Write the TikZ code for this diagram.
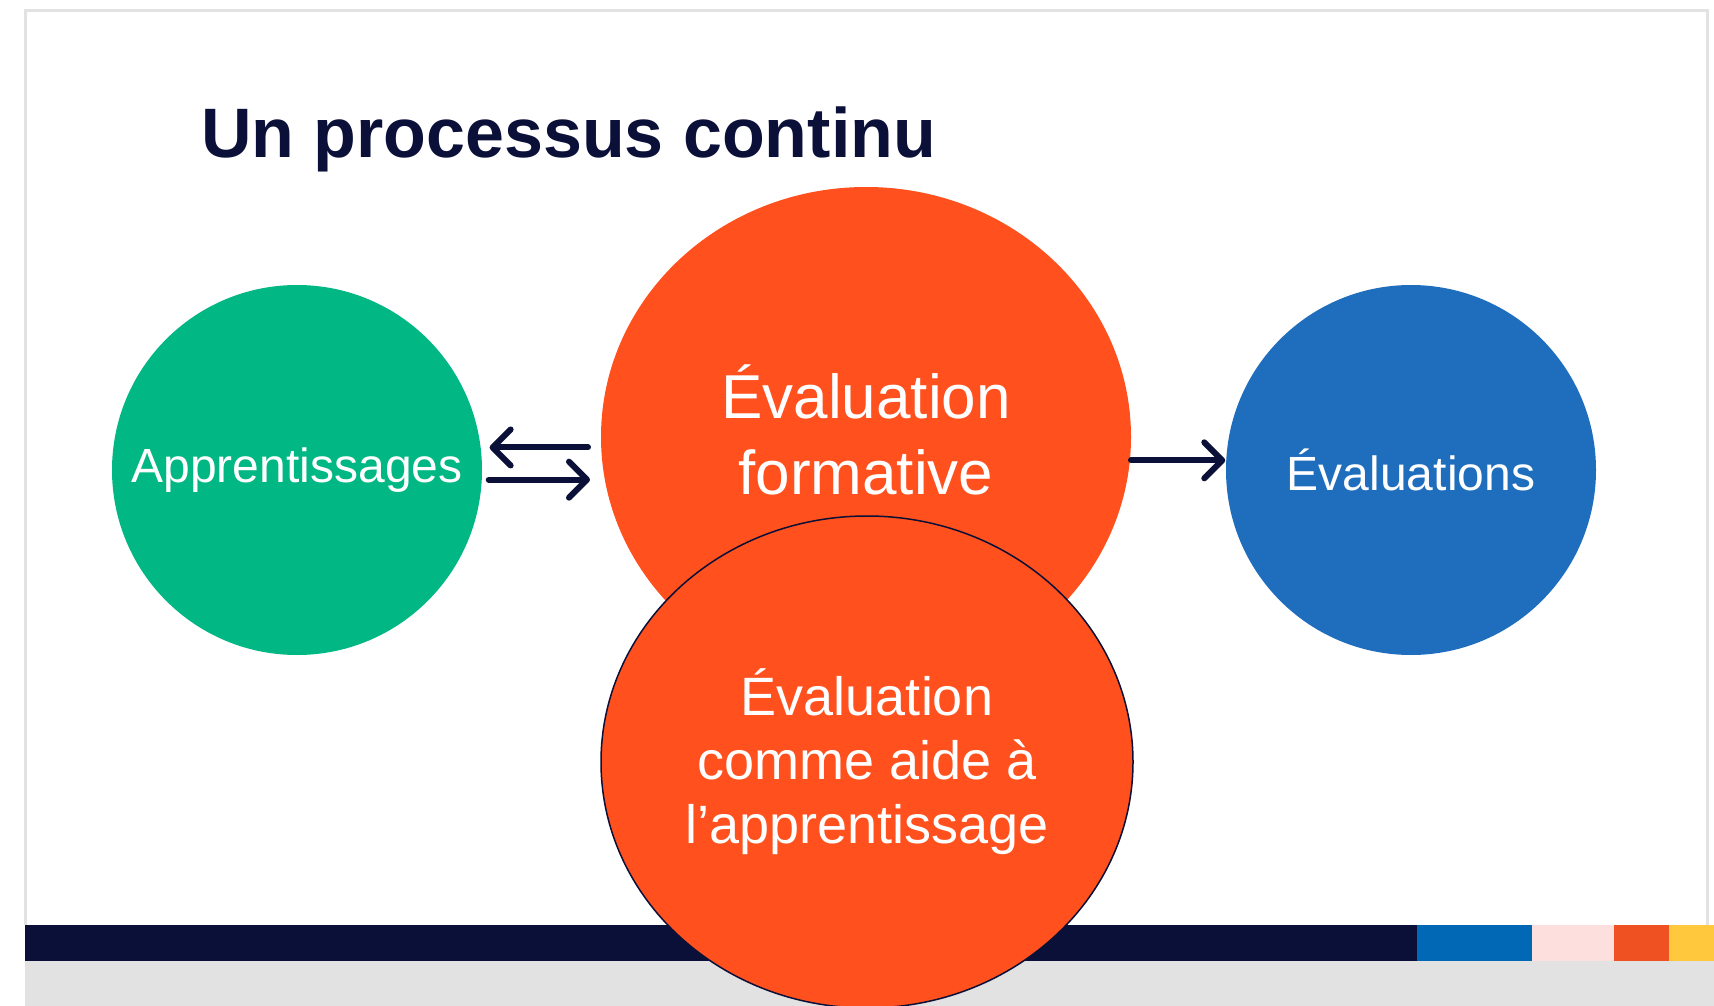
\documentclass[tikz,border=0pt]{standalone}
\usepackage{fontspec}
\setmainfont{Liberation Sans}
\usetikzlibrary{shapes.geometric,arrows.meta}
\definecolor{marine}{RGB}{11,16,56}
\definecolor{vert}{RGB}{1,183,131}
\definecolor{rouge}{RGB}{255,80,30}
\definecolor{bleu}{RGB}{31,110,190}
\definecolor{cadre}{RGB}{226,226,226}
\definecolor{fond}{RGB}{226,226,226}
\definecolor{barbleu}{RGB}{0,104,180}
\definecolor{barrose}{RGB}{253,224,222}
\definecolor{barorange}{RGB}{240,81,35}
\definecolor{barjaune}{RGB}{255,200,61}
\begin{document}
\begin{tikzpicture}[x=1pt,y=-1pt]
  \tikzstyle{every node}+=[inner sep=0pt, outer sep=0pt]
  \tikzstyle{rond}=[circle, minimum size=370pt, text=white, font=\fontsize{48}{58}\selectfont]
  \tikzstyle{ovale}=[ellipse, fill=rouge, text=white, align=center]
  \tikzstyle{fleche}=[marine, line width=6pt, line cap=round, -{Straight Barb[length=18pt,width=36pt,round]}]
  \useasboundingbox (0,0) rectangle (1714,1006);
  \fill[white] (0,0) rectangle (1714,1006);
  \fill[fond] (25,961) rectangle (1714,1006);
  \draw[cadre, line width=3pt] (25,925) -- (25,11) -- (1707,11) -- (1707,925);
  \fill[marine] (25,925) rectangle (1417,961);
  \fill[barbleu] (1417,925) rectangle (1532,961);
  \fill[barrose] (1532,925) rectangle (1614,961);
  \fill[barorange] (1614,925) rectangle (1669,961);
  \fill[barjaune] (1669,925) rectangle (1714,961);
  \node[anchor=base west, text=marine, font=\bfseries\fontsize{70}{84}\selectfont] (titre) at (201,158) {Un processus continu};
  \node[rond, fill=vert] (apprent) at (297,470) {Apprentissages};
  \node[rond, fill=bleu] (evals) at (1411,470) {Évaluations};
  \node[ovale, minimum width=530pt, minimum height=500pt] (formative) at (866,437) {};
  \node[text=white, align=center, font=\fontsize{62}{76}\selectfont] (formtxt) at ([yshift=7pt]formative.center) {Évaluation\\formative};
  \node[ovale, draw=marine, line width=1.5pt, minimum width=532pt, minimum height=492pt, font=\fontsize{54}{64}\selectfont] (aide) at (867,762) {Évaluation\\comme aide à\\l’apprentissage};
  \draw[fleche, shorten <=13pt, shorten >=9pt] (apprent.7.8 -| formative.west) -- (apprent.7.8);
  \draw[fleche, shorten <=7pt, shorten >=11pt] (apprent.-3.7) -- (apprent.-3.7 -| formative.west);
  \draw[fleche, shorten >=1pt] (evals.177.2 -| formative.east) -- (evals.177.2);
\end{tikzpicture}
\end{document}
